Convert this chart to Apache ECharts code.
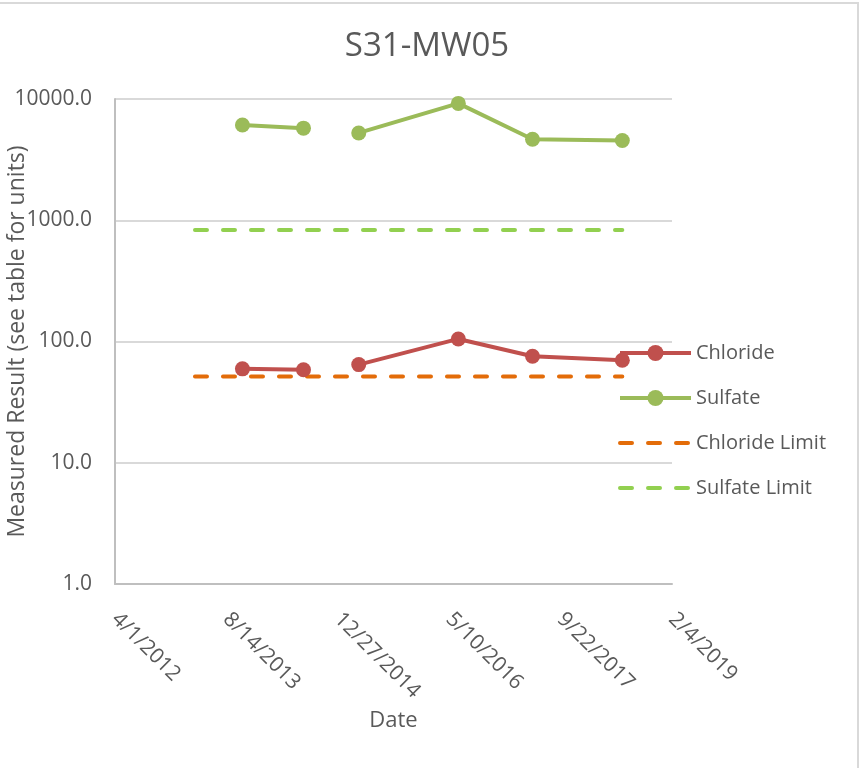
<!DOCTYPE html>
<html>
<head>
<meta charset="utf-8">
<script src="https://cdn.jsdelivr.net/npm/echarts@6/dist/echarts.min.js"></script>
<style>
html,body{margin:0;padding:0;background:#fff;}
#chart{width:863px;height:768px;}
</style>
</head>
<body>
<div id="chart"></div>
<script>
// ---- data ----
const title = 'S31-MW05';
const sampleDates = ['2013-10-25', '2014-07-26', '2014-11-15', '2015-03-31', '2016-06-20', '2017-05-19', '2018-06-26'];
const chloride = [59.5, 58.5, null, 64.5, 105, 75.5, 70];
const sulfate = [6100, 5750, null, 5250, 9200, 4650, 4550];
const limitDates = ['2013-03-26', '2018-06-26'];
const chlorideLimit = [51.5, 51.5];
const sulfateLimit = [830, 830];
const xMinDate = '2012-04-01';
const xMaxDate = '2019-02-04';
const xTickDays = 500;

// ---- helpers ----
const EPOCH = Date.UTC(1899, 11, 30);
function serial(s) {
  const p = s.split('-').map(Number);
  return Math.round((Date.UTC(p[0], p[1] - 1, p[2]) - EPOCH) / 86400000);
}
function fmtSerial(v) {
  const d = new Date(EPOCH + Math.round(v) * 86400000);
  return (d.getUTCMonth() + 1) + '/' + d.getUTCDate() + '/' + d.getUTCFullYear();
}
function pairs(dates, vals) {
  return dates.map((d, i) => [serial(d), vals[i] == null ? '-' : vals[i]]);
}

const txt = '#595959';
const font = 'Open Sans';
const cCl = '#C0504D', cSo = '#9BBB59', cClL = '#E36C09', cSoL = '#92D050';
const dash = [12, 16];

const chart = echarts.init(document.getElementById('chart'));
chart.setOption({
  animation: false,
  backgroundColor: '#fff',
  textStyle: { fontFamily: font },
  title: {
    text: title,
    left: 422, textAlign: 'center', top: 25,
    textStyle: { fontFamily: font, fontSize: 33, fontWeight: 'normal', color: txt }
  },
  graphic: [{
    type: 'rect', silent: true,
    shape: { x: -5, y: 3, width: 863, height: 800 },
    style: { fill: 'none', stroke: '#D9D9D9', lineWidth: 2 }
  }],
  grid: { left: 115, right: 191, top: 99, bottom: 184, containLabel: false, outerBoundsMode: 'none' },
  legend: {
    orient: 'vertical',
    left: 613, top: 338,
    padding: 5,
    itemWidth: 71, itemHeight: 20, itemGap: 25,
    textStyle: { fontFamily: font, fontSize: 20, color: txt },
    data: [
      { name: 'Chloride', lineStyle: { width: 4, color: cCl } },
      { name: 'Sulfate', lineStyle: { width: 4, color: cSo } },
      { name: 'Chloride Limit', itemStyle: { opacity: 0 }, lineStyle: { width: 4, color: cClL, type: dash, cap: 'round' } },
      { name: 'Sulfate Limit', itemStyle: { opacity: 0 }, lineStyle: { width: 4, color: cSoL, type: dash, cap: 'round' } }
    ]
  },
  xAxis: {
    type: 'value',
    min: serial(xMinDate), max: serial(xMaxDate), interval: xTickDays,
    name: 'Date', nameLocation: 'middle', nameGap: 126, nameMoveOverlap: false,
    nameTextStyle: { fontFamily: font, fontSize: 22, color: txt, verticalAlign: 'top' },
    axisLine: { show: true, lineStyle: { color: '#BFBFBF', width: 2 } },
    axisTick: { show: false },
    splitLine: { show: false },
    axisLabel: {
      rotate: -45, margin: 32, color: txt, fontFamily: font, fontSize: 21,
      formatter: fmtSerial
    }
  },
  yAxis: {
    type: 'log', logBase: 10, min: 1, max: 10000,
    name: 'Measured Result (see table for units)', nameLocation: 'middle', nameGap: 86, nameMoveOverlap: false,
    nameTextStyle: { fontFamily: font, fontSize: 23, color: txt },
    axisLine: { show: true, lineStyle: { color: '#BFBFBF', width: 2 } },
    axisTick: { show: false },
    splitLine: { show: true, lineStyle: { color: '#D9D9D9', width: 2 } },
    axisLabel: {
      margin: 23, color: txt, fontFamily: font, fontSize: 21,
      formatter: v => Number(v).toFixed(1)
    }
  },
  series: [
    {
      name: 'Chloride', type: 'line', data: pairs(sampleDates, chloride),
      connectNulls: false, symbol: 'circle', symbolSize: 15,
      itemStyle: { color: cCl },
      lineStyle: { color: cCl, width: 4 }, z: 4
    },
    {
      name: 'Sulfate', type: 'line', data: pairs(sampleDates, sulfate),
      connectNulls: false, symbol: 'circle', symbolSize: 15,
      itemStyle: { color: cSo },
      lineStyle: { color: cSo, width: 4 }, z: 4
    },
    {
      name: 'Chloride Limit', type: 'line', data: pairs(limitDates, chlorideLimit),
      symbol: 'none', showSymbol: false,
      itemStyle: { color: cClL },
      lineStyle: { color: cClL, width: 4, type: dash, cap: 'round' }, z: 3
    },
    {
      name: 'Sulfate Limit', type: 'line', data: pairs(limitDates, sulfateLimit),
      symbol: 'none', showSymbol: false,
      itemStyle: { color: cSoL },
      lineStyle: { color: cSoL, width: 4, type: dash, cap: 'round' }, z: 3
    }
  ]
});
</script>
</body>
</html>
